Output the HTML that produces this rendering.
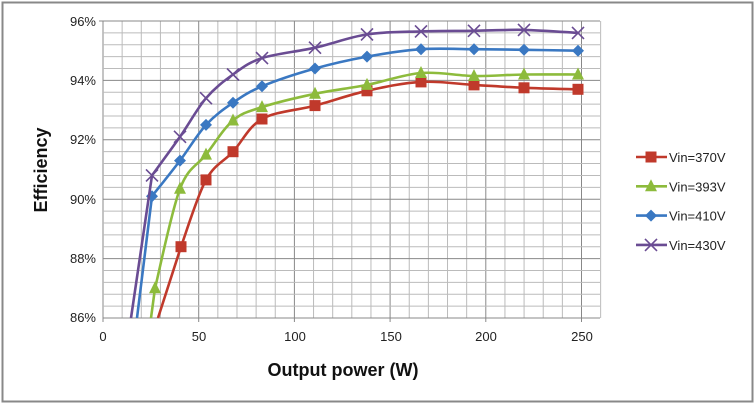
<!DOCTYPE html><html><head><style>body{margin:0;background:#fff}svg{display:block;font-family:"Liberation Sans",sans-serif}</style></head><body>
<svg id="s" width="755" height="404" xmlns="http://www.w3.org/2000/svg">
<rect x="2.5" y="2.5" width="750" height="399" fill="#fff" stroke="#888" stroke-width="2"/>
<g id="grid"></g>
<g font-size="13" fill="#222" text-anchor="end">
<text x="96" y="26">96%</text><text x="96" y="85">94%</text><text x="96" y="144">92%</text><text x="96" y="204">90%</text><text x="96" y="263">88%</text><text x="96" y="322">86%</text></g>
<g font-size="13" fill="#222" text-anchor="middle">
<text x="103" y="341">0</text><text x="199" y="341">50</text><text x="295" y="341">100</text><text x="391" y="341">150</text><text x="486" y="341">200</text><text x="582" y="341">250</text></g>
<text x="343" y="376" font-size="18" font-weight="bold" text-anchor="middle" fill="#111">Output power (W)</text>
<text transform="translate(47,170) rotate(-90)" font-size="18" font-weight="bold" text-anchor="middle" fill="#111">Efficiency</text>
<g id="series"></g>
<g font-size="13" fill="#222" id="leg"></g>
</svg>
<script>
const NS="http://www.w3.org/2000/svg",s=document.getElementById('s');
function el(t,a,p){const e=document.createElementNS(NS,t);for(const k in a)e.setAttribute(k,a[k]);(p||s).appendChild(e);return e}
const g=document.getElementById('grid');
for(let i=0;i<=26;i++){const x=103+i*19.14;el('line',{x1:x,y1:21,x2:x,y2:i%5==0?322:318,stroke:i%5==0?'#888':'#bbb','stroke-width':1},g)}
for(let i=0;i<=25;i++){const y=21+i*11.88;el('line',{x1:103,y1:y,x2:600,y2:y,stroke:i%5==0?'#888':'#bbb','stroke-width':1},g)}
el('line',{x1:99,y1:21,x2:103,y2:21,stroke:'#888'},g);
const X=[152,180,206,233,262,315,367,421,474,524,578];
const S=[
{c:'#c0392b',m:'sq',start:[158,318],pts:[[181,246.7],[206,179.9],[233,151.7],[262,119],[315,105.6],[367,90.8],[421,81.9],[474,84.9],[524,87.8],[578,89.3]],n:'Vin=370V'},
{c:'#8dbb3c',m:'tri',start:[151,318],pts:X.map((x,i)=>[x+(i==0?3:0),[288.3,188.8,154.6,120.5,107.1,93.8,84.9,73,76,74.5,74.5][i]]),n:'Vin=393V'},
{c:'#3a78c2',m:'dia',start:[137,318],pts:X.map((x,i)=>[x,[196.2,160.6,124.9,102.7,86.3,68.5,56.6,49.2,49.2,49.8,50.7][i]]),n:'Vin=410V'},
{c:'#6a4c93',m:'x',start:[131,318],pts:X.map((x,i)=>[x,[175.4,136.8,98.2,74.5,58.1,47.7,34.4,31.4,30.8,29.9,32.9][i]]),n:'Vin=430V'}];
const sg=document.getElementById('series');
function marker(t,x,y,c,p){if(t=='sq')el('rect',{x:x-5.5,y:y-5.5,width:11,height:11,fill:c},p);
else if(t=='tri')el('polygon',{points:`${x},${y-7} ${x+6},${y+5} ${x-6},${y+5}`,fill:c},p);
else if(t=='dia')el('polygon',{points:`${x},${y-6} ${x+6},${y} ${x},${y+6} ${x-6},${y}`,fill:c},p);
else {el('path',{d:`M${x-6},${y-6}L${x+6},${y+6}M${x+6},${y-6}L${x-6},${y+6}`,stroke:c,'stroke-width':1.6},p)}}
S.forEach((d,k)=>{const P=d.pts;let dd=`M${d.start[0]},${d.start[1]}L${P[0][0]},${P[0][1]}`;
for(let i=0;i<P.length-1;i++){const p0=P[Math.max(0,i-1)],p1=P[i],p2=P[i+1],p3=P[Math.min(P.length-1,i+2)];
dd+=`C${p1[0]+(p2[0]-p0[0])/6},${p1[1]+(p2[1]-p0[1])/6} ${p2[0]-(p3[0]-p1[0])/6},${p2[1]-(p3[1]-p1[1])/6} ${p2[0]},${p2[1]}`}
el('path',{d:dd,fill:'none',stroke:d.c,'stroke-width':2.6,'stroke-linejoin':'round'},sg);
d.pts.forEach(p=>{if(p[1]<=320)marker(d.m,p[0],p[1],d.c,sg)});
const ly=157+k*29.3,lg=document.getElementById('leg');
el('line',{x1:636,y1:ly,x2:667,y2:ly,stroke:d.c,'stroke-width':2.6},lg);marker(d.m,651,ly,d.c,lg);
const t=el('text',{x:669,y:ly+5},lg);t.textContent=d.n;});
</script>
</body></html>
